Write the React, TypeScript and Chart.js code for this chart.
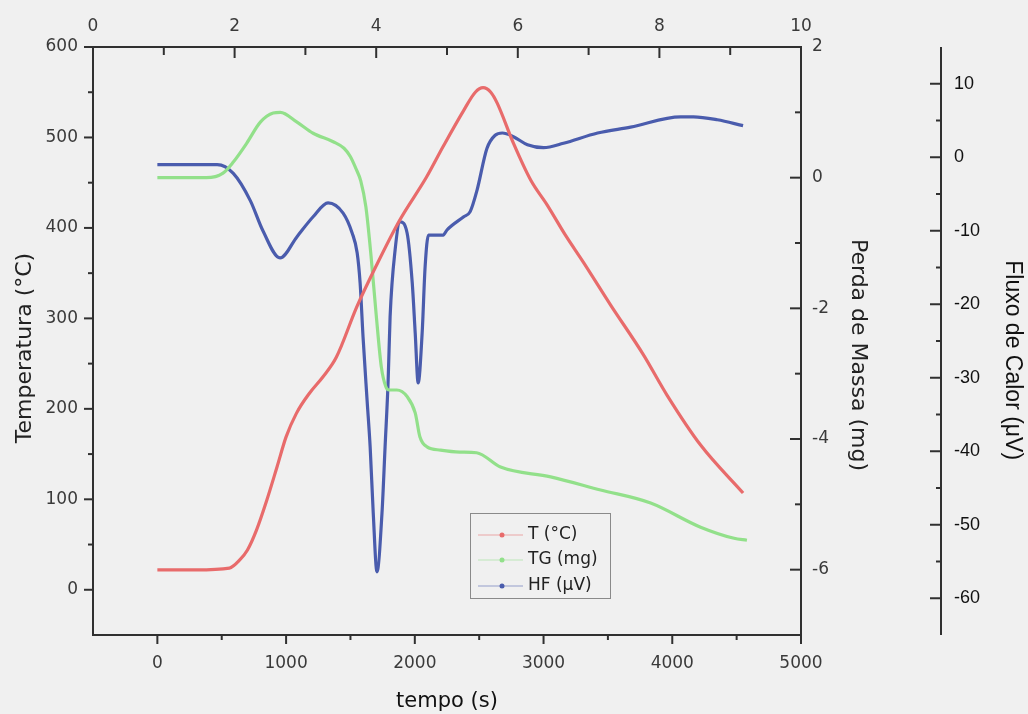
import React, { useEffect, useRef } from 'react';
import { Chart, registerables } from 'chart.js';

Chart.register(...registerables);

// ---- data (time in s) ----
const timeT = [0, 300, 560, 640, 700, 770, 850, 930, 1000, 1080, 1180, 1290, 1390, 1550, 1710, 1880, 2090, 2220, 2380, 2470, 2530, 2590, 2640, 2765, 2900, 3030, 3170, 3310, 3520, 3775, 3960, 4220, 4550];
const tempT = [22, 22, 24, 33, 44, 66, 99, 136, 169, 195, 217, 236, 257, 313, 361, 408, 456, 490, 530, 550, 555, 550, 538, 494, 453, 425, 392, 362, 315, 260, 215, 160, 107];

const timeTG = [0, 380, 510, 590, 695, 800, 900, 955, 1085, 1210, 1366, 1450, 1500, 1540, 1580, 1620, 1660, 1700, 1740, 1775, 1800, 1860, 1940, 2003, 2040, 2095, 2200, 2350, 2480, 2666, 3055, 3443, 3832, 4220, 4480, 4580];
const massTG = [0.0, 0.0, 0.07, 0.24, 0.53, 0.85, 0.99, 1.0, 0.85, 0.68, 0.55, 0.45, 0.32, 0.15, -0.05, -0.45, -1.2, -2.1, -2.9, -3.2, -3.25, -3.25, -3.35, -3.6, -3.97, -4.12, -4.17, -4.2, -4.21, -4.43, -4.58, -4.78, -4.98, -5.35, -5.52, -5.55];

const timeHF = [0, 465, 590, 722, 820, 953, 1085, 1210, 1326, 1443, 1513, 1552, 1575, 1598, 1629, 1653, 1677, 1706, 1745, 1769, 1793, 1808, 1847, 1886, 1940, 1980, 2003, 2026, 2057, 2080, 2106, 2220, 2250, 2380, 2430, 2483, 2560, 2624, 2680, 2766, 2875, 3000, 3155, 3420, 3676, 4065, 4165, 4350, 4550];
const fluxHF = [-1.0, -1.0, -2.2, -5.9, -10, -13.7, -10.8, -8.1, -6.2, -7.6, -10.3, -13, -17.1, -24.5, -33, -39.4, -48.4, -56.4, -48.4, -39.4, -30.3, -21.7, -12.6, -8.8, -10.3, -17.1, -23.9, -30.7, -23.9, -14.9, -10.6, -10.6, -9.9, -8.1, -7.4, -4.5, 1.2, 3.0, 3.3, 2.8, 1.7, 1.3, 1.9, 3.3, 4.1, 5.5, 5.5, 5.1, 4.3];

const seriesLabels = ['T (°C)', 'TG (mg)', 'HF (μV)'];

// ---- ticks ----
const xTicks = [0, 1000, 2000, 3000, 4000, 5000];
const xMinorTicks = [500, 1500, 2500, 3500, 4500];
const topTicks = [0, 2, 4, 6, 8, 10];
const topMinorTicks = [1, 3, 5, 7, 9];
const tempTicks = [0, 100, 200, 300, 400, 500, 600];
const tempMinorTicks = [50, 150, 250, 350, 450, 550];
const massTicks = [-6, -4, -2, 0, 2];
const massMinorTicks = [-5, -3, -1, 1];
const fluxTicks = [-60, -50, -40, -30, -20, -10, 0, 10];
const fluxMinorTicks = [-55, -45, -35, -25, -15, -5, 5];

const RED = '#e86b6b';
const GREEN = '#92e08a';
const BLUE = '#4a5cad';
const AXIS = '#303030';
const LABEL = '#3a3a3a';
const FONT = "'DejaVu Sans', sans-serif";
const ARIAL = "'Liberation Sans', Arial, sans-serif";
const FLUX_AXIS_X = 941;

const toPts = (xs: number[], ys: number[]) => xs.map((x, i) => ({ x, y: ys[i] }));
const setTicks = (vals: number[]) => (s: any) => {
  s.ticks = vals.map((v) => ({ value: v }));
};
const fmt = (v: any) => `${v}`;
const fitBox = (dim: 'width' | 'height', size: number) => (s: any) => {
  s[dim] = size;
  s.paddingTop = 0;
  s.paddingBottom = 0;
  s.paddingLeft = 0;
  s.paddingRight = 0;
};

const decorPlugin = {
  id: 'decor',
  afterDraw(chart: any) {
    const ctx = chart.ctx;
    const { top, bottom, left, right } = chart.chartArea;
    const s = chart.scales;
    ctx.save();
    ctx.strokeStyle = AXIS;
    ctx.lineWidth = 2;
    const seg = (x1: number, y1: number, x2: number, y2: number) => {
      ctx.beginPath();
      ctx.moveTo(x1, y1);
      ctx.lineTo(x2, y2);
      ctx.stroke();
    };
    // bottom axis: outward
    xTicks.forEach((v) => { const p = s.x.getPixelForValue(v); seg(p, bottom, p, bottom + 9); });
    xMinorTicks.forEach((v) => { const p = s.x.getPixelForValue(v); seg(p, bottom, p, bottom + 5); });
    // top axis: inward
    topTicks.forEach((v) => { const p = s.x2.getPixelForValue(v); seg(p, top, p, top + 11); });
    topMinorTicks.forEach((v) => { const p = s.x2.getPixelForValue(v); seg(p, top, p, top + 8); });
    // left axis: outward
    tempTicks.forEach((v) => { const p = s.y.getPixelForValue(v); seg(left, p, left - 9, p); });
    tempMinorTicks.forEach((v) => { const p = s.y.getPixelForValue(v); seg(left, p, left - 5, p); });
    // right axis: inward
    massTicks.forEach((v) => { const p = s.y2.getPixelForValue(v); seg(right, p, right - 11, p); });
    massMinorTicks.forEach((v) => { const p = s.y2.getPixelForValue(v); seg(right, p, right - 6, p); });
    // separate heat-flow axis
    seg(FLUX_AXIS_X, top, FLUX_AXIS_X, bottom);
    fluxTicks.forEach((v) => { const p = s.y3.getPixelForValue(v); seg(FLUX_AXIS_X, p, FLUX_AXIS_X - 11, p); });
    fluxMinorTicks.forEach((v) => { const p = s.y3.getPixelForValue(v); seg(FLUX_AXIS_X, p, FLUX_AXIS_X - 5, p); });

    // legend box
    const lx = 470, ly = 513, lw = 140, lh = 85;
    ctx.lineWidth = 1;
    ctx.strokeStyle = '#8a8a8a';
    ctx.strokeRect(lx + 0.5, ly + 0.5, lw, lh);
    const rows = [535, 560, 586];
    ctx.font = `17px ${FONT}`;
    ctx.textBaseline = 'middle';
    ctx.textAlign = 'left';
    chart.data.datasets.forEach((ds: any, i: number) => {
      const yy = rows[i];
      ctx.strokeStyle = ds.borderColor;
      ctx.globalAlpha = 0.55;
      ctx.lineWidth = 1;
      seg(478, yy, 523, yy);
      ctx.globalAlpha = 1;
      ctx.fillStyle = ds.borderColor;
      ctx.beginPath();
      ctx.arc(502, yy, 2.5, 0, Math.PI * 2);
      ctx.fill();
      ctx.fillStyle = '#222';
      ctx.fillText(ds.label, 528, yy);
    });
    ctx.restore();
  },
};

export default function App() {
  const ref = useRef<HTMLCanvasElement | null>(null);
  useEffect(() => {
    document.body.style.margin = '0';
    document.body.style.background = '#f0f0f0';
    const canvas = ref.current;
    if (!canvas) return;
    const tickFont = { family: FONT, size: 17 };
    const chart = new Chart(canvas, {
      type: 'line',
      data: {
        datasets: [
          { label: seriesLabels[0], data: toPts(timeT, tempT), xAxisID: 'x', yAxisID: 'y', borderColor: RED, backgroundColor: RED, borderWidth: 3.2, pointRadius: 0, cubicInterpolationMode: 'monotone', fill: false },
          { label: seriesLabels[1], data: toPts(timeTG, massTG), xAxisID: 'x', yAxisID: 'y2', borderColor: GREEN, backgroundColor: GREEN, borderWidth: 3.2, pointRadius: 0, cubicInterpolationMode: 'monotone', fill: false },
          { label: seriesLabels[2], data: toPts(timeHF, fluxHF), xAxisID: 'x', yAxisID: 'y3', borderColor: BLUE, backgroundColor: BLUE, borderWidth: 3.2, pointRadius: 0, cubicInterpolationMode: 'monotone', fill: false },
        ],
      },
      options: {
        animation: false,
        responsive: false,
        maintainAspectRatio: false,
        layout: { padding: 0 },
        plugins: { legend: { display: false }, tooltip: { enabled: false } },
        scales: {
          x: {
            type: 'linear', position: 'bottom', min: -500, max: 5000,
            afterBuildTicks: setTicks(xTicks),
            afterFit: fitBox('height', 79),
            grid: { display: false, drawTicks: false },
            border: { display: true, color: AXIS, width: 2 },
            ticks: { font: tickFont, color: LABEL, padding: 18, maxRotation: 0, autoSkip: false, callback: fmt },
            title: { display: true, text: 'tempo (s)', font: { family: FONT, size: 21 }, color: '#111', padding: { top: 0, bottom: 0 } },
          },
          x2: {
            type: 'linear', position: 'top', min: 0, max: 10,
            afterBuildTicks: setTicks(topTicks),
            afterFit: fitBox('height', 47),
            grid: { display: false, drawTicks: false },
            border: { display: true, color: AXIS, width: 2 },
            ticks: { font: tickFont, color: LABEL, padding: 10, maxRotation: 0, autoSkip: false, callback: fmt },
          },
          y: {
            type: 'linear', position: 'left', min: -50, max: 600,
            afterBuildTicks: setTicks(tempTicks),
            afterFit: fitBox('width', 93),
            grid: { display: false, drawTicks: false },
            border: { display: true, color: AXIS, width: 2 },
            ticks: { font: tickFont, color: LABEL, padding: 15, autoSkip: false, callback: fmt },
            title: { display: true, text: 'Temperatura (°C)  ', font: { family: FONT, size: 22 }, color: '#222', padding: { top: 12, bottom: 0 } },
          },
          y2: {
            type: 'linear', position: 'right', min: -7, max: 2, weight: 1,
            afterBuildTicks: setTicks(massTicks),
            afterFit: fitBox('width', 74),
            grid: { display: false, drawTicks: false },
            border: { display: true, color: AXIS, width: 2 },
            ticks: { font: tickFont, color: LABEL, padding: 11, autoSkip: false, callback: fmt },
            title: { display: true, text: '    Perda de Massa (mg)', font: { family: FONT, size: 22 }, color: '#222', padding: { top: 4, bottom: 0 } },
          },
          y3: {
            type: 'linear', position: 'right', min: -65, max: 15, weight: 2,
            afterBuildTicks: setTicks(fluxTicks),
            afterFit: fitBox('width', 153),
            grid: { display: false, drawTicks: false },
            border: { display: false },
            ticks: { font: { family: ARIAL, size: 18 }, color: '#111', padding: 79, autoSkip: false, callback: fmt },
            title: { display: true, text: '      Fluxo de Calor (μV)', font: { family: ARIAL, size: 23 }, color: '#111', padding: { top: 2, bottom: 0 } },
          },
        },
      },
      plugins: [decorPlugin],
    } as any);
    return () => chart.destroy();
  }, []);
  return (
    <div style={{ position: 'absolute', left: 0, top: 0, width: 1028, height: 714, background: '#f0f0f0' }}>
      <canvas ref={ref} width={1028} height={714} style={{ width: 1028, height: 714, display: 'block' }} />
    </div>
  );
}
